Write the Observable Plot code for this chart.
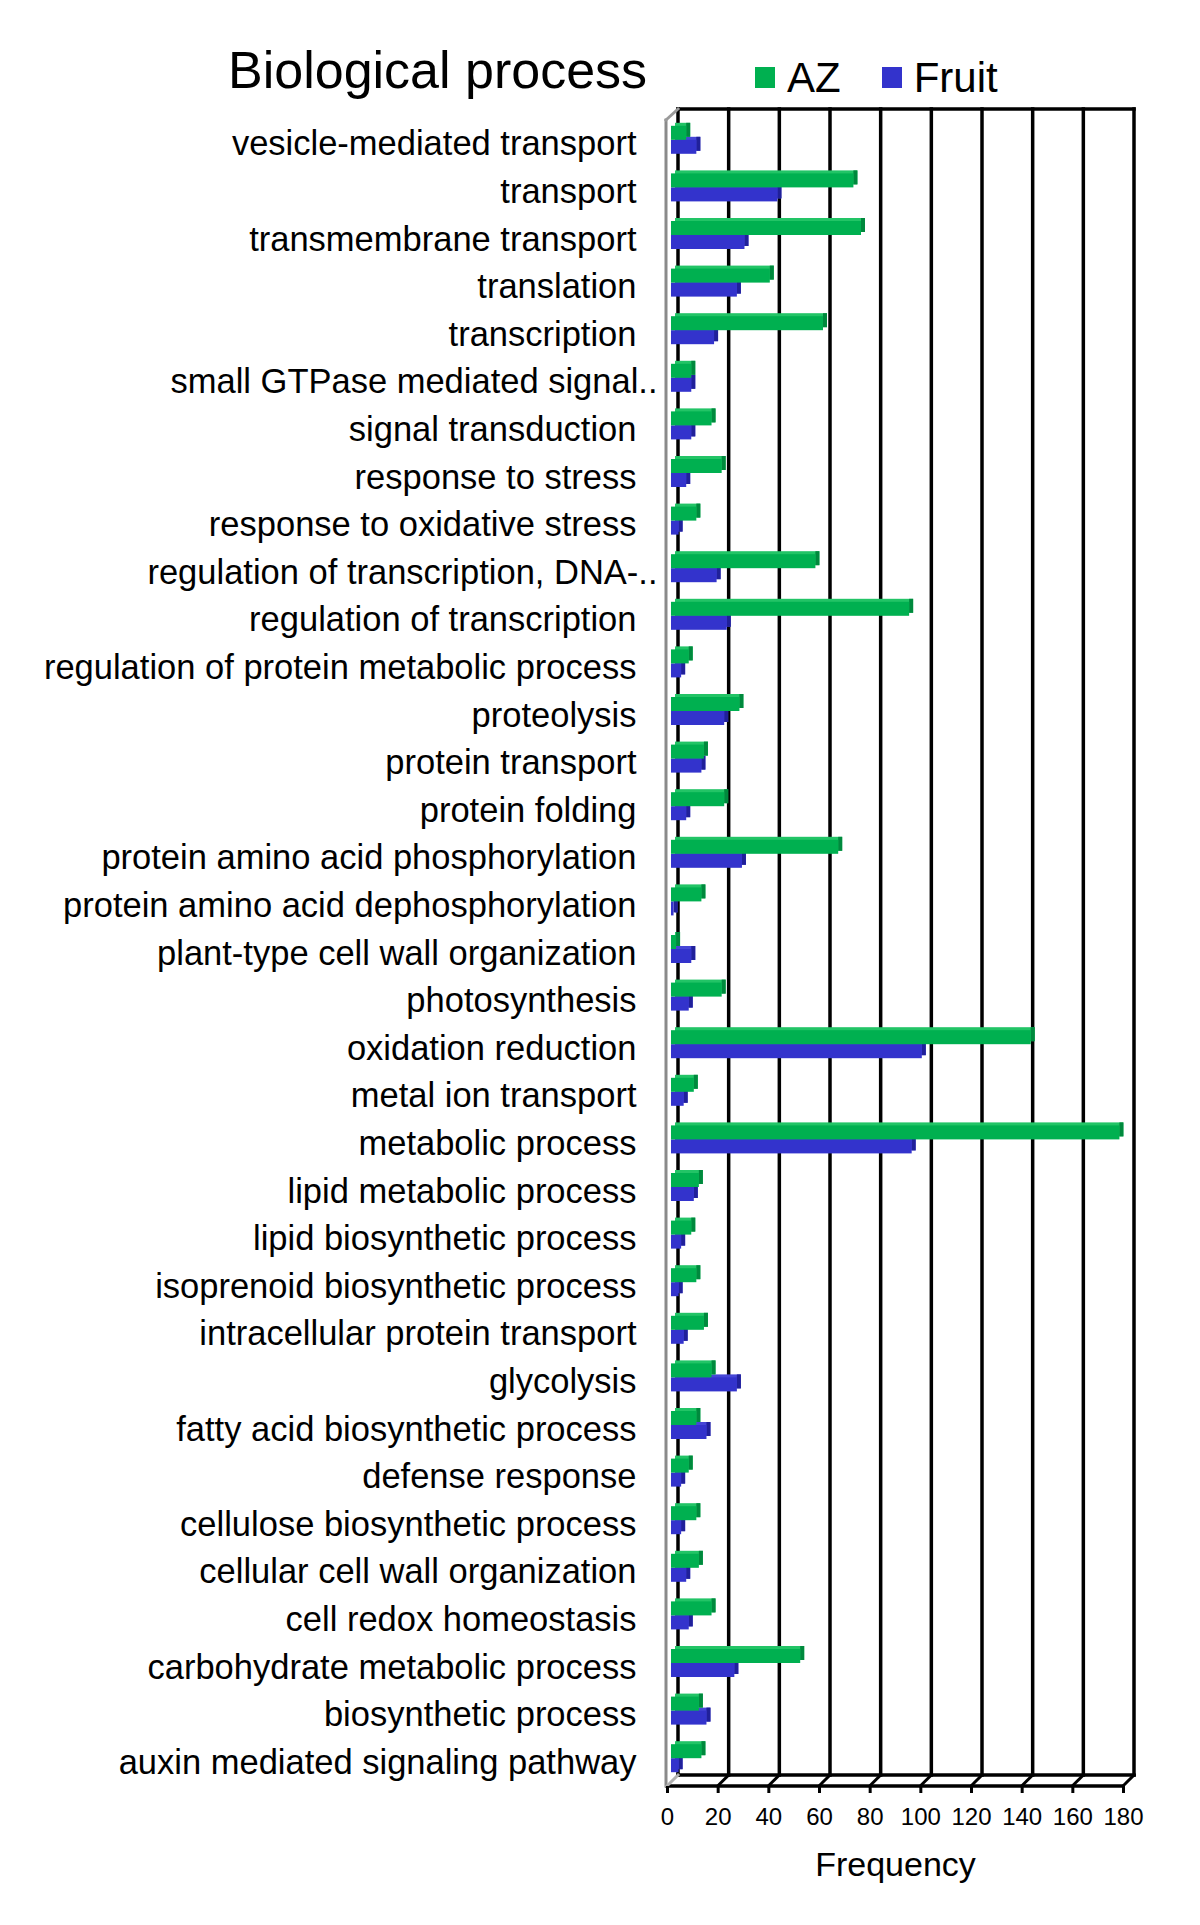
<!DOCTYPE html>
<html>
<head>
<meta charset="utf-8">
<script src="https://cdn.jsdelivr.net/npm/d3@7"></script>
<script src="https://cdn.jsdelivr.net/npm/@observablehq/plot@0.6"></script>
<style>
  body { margin: 0; background: #fff; font-family: "Liberation Sans", Arial, sans-serif; color: #000; }
  #wrap { width: 1200px; }
  #header { position: relative; width: 1200px; height: 100px; }
  #title { position: absolute; left: 228px; top: 44px; font-size: 52px; line-height: 1; white-space: nowrap; }
  #legend { position: absolute; left: 755px; top: 57px; font-size: 42px; line-height: 1; white-space: nowrap; }
  .sw { display: inline-block; width: 20px; height: 21px; vertical-align: 4px; margin-right: 12px; }
  .item { display: inline-block; margin-right: 41px; }
</style>
</head>
<body>
<div id="wrap">
  <div id="header">
    <div id="title">Biological process</div>
    <div id="legend"></div>
  </div>
  <div id="chart"></div>
</div>
<script>
const categories = [
  "vesicle-mediated transport",
  "transport",
  "transmembrane transport",
  "translation",
  "transcription",
  "small GTPase mediated signal..",
  "signal transduction",
  "response to stress",
  "response to oxidative stress",
  "regulation of transcription, DNA-..",
  "regulation of transcription",
  "regulation of protein metabolic process",
  "proteolysis",
  "protein transport",
  "protein folding",
  "protein amino acid phosphorylation",
  "protein amino acid dephosphorylation",
  "plant-type cell wall organization",
  "photosynthesis",
  "oxidation reduction",
  "metal ion transport",
  "metabolic process",
  "lipid metabolic process",
  "lipid biosynthetic process",
  "isoprenoid biosynthetic process",
  "intracellular protein transport",
  "glycolysis",
  "fatty acid biosynthetic process",
  "defense response",
  "cellulose biosynthetic process",
  "cellular cell wall organization",
  "cell redox homeostasis",
  "carbohydrate metabolic process",
  "biosynthetic process",
  "auxin mediated signaling pathway"
];
const azValues = [6, 72, 75, 39, 60, 8, 16, 20, 10, 57, 94, 7, 27, 13, 21, 66, 12, 2, 20, 142, 9, 177, 11, 8, 10, 13, 16, 10, 7, 10, 11, 16, 51, 11, 12];
const fruitValues = [10, 42, 29, 26, 17, 8, 8, 6, 3, 18, 22, 4, 21, 12, 6, 28, 1, 8, 7, 99, 5, 95, 9, 4, 3, 5, 26, 14, 4, 4, 6, 7, 25, 14, 3];
const seriesNames = ["AZ", "Fruit"];
const seriesColors = ["#00B050", "#3333CC"];
const seriesSide = ["#00893d", "#20209a"];
const seriesTop = ["#22c466", "#4646d6"];
const xTicks = [0, 20, 40, 60, 80, 100, 120, 140, 160, 180];
const xLabel = "Frequency";

// legend
const legend = document.getElementById("legend");
seriesNames.forEach((name, i) => {
  const item = document.createElement("span");
  item.className = "item";
  const sw = document.createElement("span");
  sw.className = "sw";
  sw.style.background = seriesColors[i];
  item.appendChild(sw);
  item.appendChild(document.createTextNode(name));
  legend.appendChild(item);
});

const rows = categories.map((c, i) => ({category: c, AZ: azValues[i], Fruit: fruitValues[i]}));
const isCut = d => d.endsWith("..");

const DX = 11, DY = 11;
function walls(index, scales, values, dims) {
  const x = scales.x;
  const top = dims.marginTop, bottom = dims.height - dims.marginBottom;
  const g = d3.create("svg:g");
  const xb = t => x(t) + DX;
  const line = (x1, y1, x2, y2, stroke, w) =>
    g.append("line").attr("x1", x1).attr("y1", y1).attr("x2", x2).attr("y2", y2)
      .attr("stroke", stroke).attr("stroke-width", w).attr("stroke-linecap", "square");
  for (const t of xTicks) line(xb(t), top - DY, xb(t), bottom - DY, "#000", 3.5);
  line(xb(xTicks[0]), top - DY, xb(xTicks[xTicks.length - 1]), top - DY, "#000", 3.5);
  line(xb(xTicks[0]), bottom - DY, xb(xTicks[xTicks.length - 1]), bottom - DY, "#000", 3.5);
  line(x(xTicks[0]), bottom, x(xTicks[xTicks.length - 1]), bottom, "#000", 3.5);
  for (const t of xTicks.slice(1)) line(x(t), bottom, xb(t), bottom - DY, "#000", 3);
  line(x(0) - 1, top, x(0) - 1, bottom, "#8a8a8a", 3);
  line(x(0) - 1, top, xb(0), top - DY, "#9a9a9a", 3);
  line(x(0), bottom, xb(0), bottom - DY, "#b0b0b0", 3);
  return g.node();
}

const half = 23.8;
function seriesMarks(key, i, insetTop, insetBottom) {
  const common = {y: "category", insetTop, insetBottom};
  return [
    Plot.barX(rows, {...common, x1: 0, x2: key, fill: seriesTop[i], dx: 8, dy: -3}),
    Plot.barX(rows, {...common, x1: key, x2: key, insetRight: -4, fill: seriesSide[i], dx: 4, dy: -3}),
    Plot.barX(rows, {...common, x1: 0, x2: key, fill: seriesColors[i], dx: 4})
  ];
}

const chart = Plot.plot({
  width: 1200,
  height: 1825,
  marginTop: 20,
  marginBottom: 139,
  marginLeft: 667,
  marginRight: 77,
  x: {domain: [0, 180], axis: null},
  y: {domain: categories, padding: 0, round: false, axis: null},
  style: {fontFamily: "'Liberation Sans', Arial, sans-serif", color: "#000", background: "#fff", overflow: "visible"},
  marks: [
    walls,
    ...seriesMarks("Fruit", 1, half - 4, half - 10),
    ...seriesMarks("AZ", 0, half - 18, half + 4),
    Plot.text(categories.filter(d => !isCut(d)), {frameAnchor: "left", y: d => d, text: d => d, textAnchor: "end", dx: -31, fontSize: 34.5, fill: "#000"}),
    Plot.text(categories.filter(isCut), {frameAnchor: "left", y: d => d, text: d => d, textAnchor: "end", dx: -10, fontSize: 34.5, fill: "#000"}),
    Plot.axisX({ticks: xTicks, tickSize: 7, tickPadding: 14, fontSize: 24, strokeWidth: 3, label: null, tickFormat: d => d}),
    Plot.text([xLabel], {frameAnchor: "bottom", text: d => d, dy: 89, fontSize: 34, fill: "#000"})
  ]
});
document.getElementById("chart").appendChild(chart);
</script>
</body>
</html>
